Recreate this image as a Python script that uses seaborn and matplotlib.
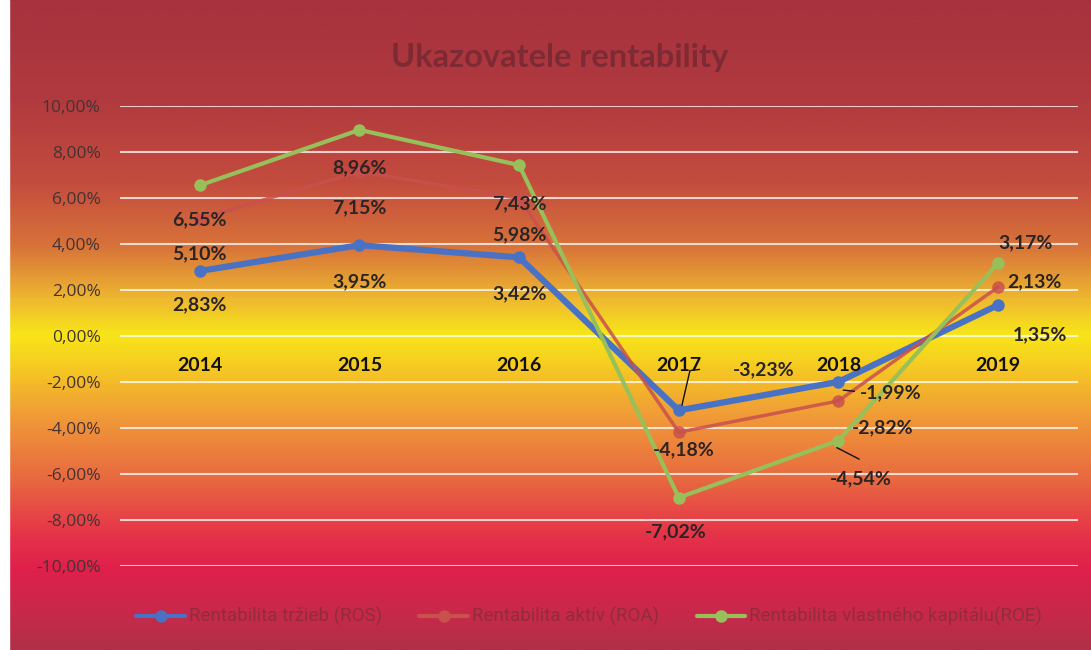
import numpy as np
import pandas as pd
import seaborn as sns
import matplotlib.pyplot as plt
from matplotlib.colors import LinearSegmentedColormap

# data
roky = [2014, 2015, 2016, 2017, 2018, 2019]
ros = [2.83, 3.95, 3.42, -3.23, -1.99, 1.35]
roa = [5.10, 7.15, 5.98, -4.18, -2.82, 2.13]
roe = [6.55, 8.96, 7.43, -7.02, -4.54, 3.17]
nazvy = ["Rentabilita tržieb (ROS)", "Rentabilita aktív (ROA)", "Rentabilita vlastného kapitálu(ROE)"]
farby = ["#4a72c4", "#c9504d", "#98c05a"]

df = pd.DataFrame({
    "rok": roky * 3,
    "hodnota": ros + roa + roe,
    "ukazovatel": [nazvy[0]] * 6 + [nazvy[1]] * 6 + [nazvy[2]] * 6,
})

sns.set_style("white")
plt.rcParams['font.family'] = ['Lato', 'DejaVu Sans']

fig = plt.figure(figsize=(10.91, 6.5), dpi=100)

# gradient pozadia (hore tmavo cervena, v strede zlta, dole ruzovo cervena)
stops = [(0.00, "#a8323e"), (0.15, "#b03a3e"), (0.28, "#c44c3e"), (0.38, "#d8743a"),
         (0.46, "#eeb830"), (0.515, "#f8e618"), (0.555, "#f6d020"), (0.645, "#f09838"),
         (0.74, "#e86840"), (0.815, "#e63848"), (0.875, "#e0204c"), (0.955, "#c42a4a"),
         (1.00, "#b03048")]
cmap = LinearSegmentedColormap.from_list("bg", stops)
bg = fig.add_axes([0, 0, 1, 1], zorder=-1)
bg.imshow(np.linspace(0, 1, 400).reshape(-1, 1), aspect="auto", cmap=cmap,
          extent=[0, 1, 0, 1], origin="upper")
bg.axvspan(0, 0.008, color="white")
bg.set_axis_off()

ax = fig.add_axes([0.110, 0.129, 0.878, 0.708])
ax.patch.set_alpha(0)

sns.lineplot(data=df, x="rok", y="hodnota", hue="ukazovatel", palette=farby,
             marker="o", markersize=9, markeredgewidth=0, linewidth=3, ax=ax)
for ln, lw, a in zip(ax.lines, [4.5, 2.5, 3], [1, 0.85, 1]):
    ln.set_linewidth(lw)
    ln.set_alpha(a)

ax.set_xlim(2013.5, 2019.5)
ax.set_ylim(-10, 10)
ax.set_yticks(range(-10, 11, 2))
ax.set_yticklabels([f"{v},00%" for v in range(-10, 11, 2)], fontsize=12.5,
                   color="#453333", fontfamily=["Open Sans", "DejaVu Sans"])
ax.set_xticks([])
ax.set_xlabel("")
ax.set_ylabel("")
ax.tick_params(axis="y", length=0, pad=14)
ax.grid(axis="y", color="white", alpha=0.75, linewidth=1.5)
for s in ax.spines.values():
    s.set_visible(False)

# roky pri nulovej osi
for r in roky:
    ax.text(r, -1.3, str(r), ha="center", va="center", fontsize=14,
            fontweight="bold", color="#111111")

# popisky hodnot (pozicie podla predlohy)
def pct(v):
    return f"{v:.2f}%".replace(".", ",")

lbl_ros = [(2014, 1.35), (2015, 2.35), (2016, 1.85), (2017.53, -1.48), (2018.33, -2.48), (2019.26, 0.04)]
lbl_roa = [(2014, 3.57), (2015, 5.57), (2016, 4.39), (2017.03, -4.96), (2018.28, -4.0), (2019.23, 2.35)]
lbl_roe = [(2014, 5.04), (2015, 7.3), (2016, 5.75), (2016.98, -8.52), (2018.14, -6.2), (2019.17, 4.04)]
for vals, pos in [(ros, lbl_ros), (roa, lbl_roa), (roe, lbl_roe)]:
    for v, (px, py) in zip(vals, pos):
        ax.text(px, py, pct(v), ha="center", va="center", fontsize=14,
                fontweight="bold", color="#2b2424")

# vodiace ciary
ax.plot([2017.13, 2017.07, 2017.02], [-1.45, -1.5, -3.0], color="#111111", lw=1)
ax.plot([2018.03, 2018.1], [-2.35, -2.4], color="#111111", lw=1)
ax.plot([2017.99, 2018.13], [-4.85, -5.35], color="#111111", lw=1)

ax.legend(loc="center", bbox_to_anchor=(0.54, 0.051), bbox_transform=fig.transFigure,
          ncol=3, frameon=False, labelcolor="#922c3c",
          handlelength=2.6, columnspacing=2.0, handletextpad=0.2,
          prop={"family": ["Roboto", "DejaVu Sans"], "size": 13.5})

fig.text(0.513, 0.912, "Ukazovatele rentability", ha="center", va="center",
         fontsize=23.5, fontweight="bold", color="#7e2a34")

fig.savefig("out.png", dpi=100)
